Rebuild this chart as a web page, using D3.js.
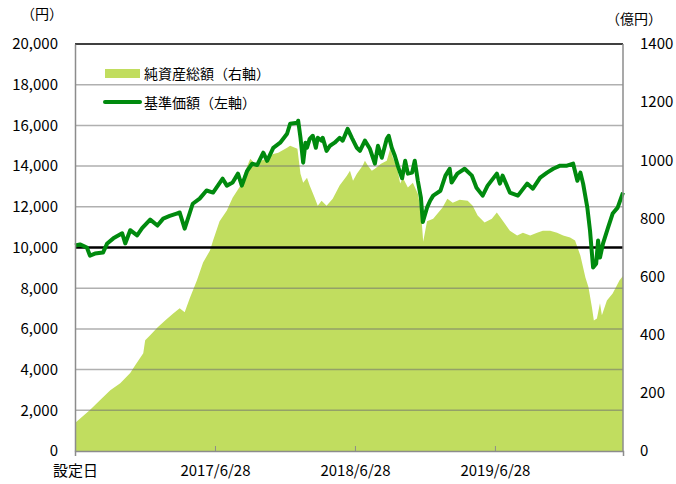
<!DOCTYPE html>
<html>
<head>
<meta charset="utf-8">
<script src="https://cdn.jsdelivr.net/npm/d3@7"></script>
<style>
  body { margin: 0; background: #fff; }
  text { font-family: "Noto Sans CJK JP", "Noto Sans", sans-serif; fill: #000; }
</style>
</head>
<body>
<div class="canvas"></div>
<script>
// 基準価額（左軸）
const navDates = ['2016-06-28','2016-07-11','2016-07-29','2016-08-06','2016-08-19','2016-09-09','2016-09-20','2016-10-06','2016-10-29','2016-11-06','2016-11-19','2016-12-07','2016-12-20','2017-01-10','2017-01-29','2017-02-13','2017-03-02','2017-03-20','2017-03-28','2017-04-10','2017-05-01','2017-05-19','2017-06-06','2017-06-23','2017-07-18','2017-07-29','2017-08-13','2017-08-27','2017-09-06','2017-09-20','2017-10-03','2017-10-16','2017-11-01','2017-11-11','2017-11-27','2017-12-15','2018-01-02','2018-01-10','2018-01-29','2018-01-31','2018-02-06','2018-02-13','2018-02-19','2018-02-23','2018-03-02','2018-03-10','2018-03-18','2018-03-23','2018-04-02','2018-04-05','2018-04-15','2018-04-24','2018-05-06','2018-05-19','2018-05-27','2018-06-09','2018-06-20','2018-07-03','2018-07-11','2018-07-24','2018-08-06','2018-08-19','2018-08-27','2018-09-06','2018-09-19','2018-09-24','2018-10-02','2018-10-10','2018-10-18','2018-10-29','2018-11-06','2018-11-13','2018-11-24','2018-12-01','2018-12-09','2018-12-17','2018-12-22','2019-01-02','2019-01-10','2019-01-18','2019-02-06','2019-02-19','2019-03-02','2019-03-07','2019-03-22','2019-04-10','2019-04-29','2019-05-11','2019-05-27','2019-06-09','2019-07-03','2019-07-11','2019-07-18','2019-08-06','2019-08-27','2019-09-20','2019-10-05','2019-10-24','2019-11-11','2019-11-27','2019-12-15','2020-01-02','2020-01-18','2020-01-29','2020-02-06','2020-02-13','2020-02-24','2020-03-02','2020-03-10','2020-03-18','2020-03-23','2020-03-28','2020-04-05','2020-04-18','2020-04-30','2020-05-13','2020-05-27'];
const navValues = [10100,10150,10000,9600,9700,9750,10200,10450,10700,10200,10850,10600,10950,11370,11080,11420,11550,11670,11720,10930,12150,12400,12800,12700,13380,13040,13190,13630,13040,13770,14120,14050,14660,14260,14900,15150,15590,16080,16130,16230,15390,14170,15150,14900,15340,15490,14900,15390,15250,15390,14750,15000,15150,15390,15250,15830,15390,14900,14750,15250,14850,14120,15000,14410,15340,15490,14900,14510,14000,13400,14260,13630,13680,14260,13280,12450,11250,11960,12300,12550,12790,13530,13870,13190,13630,13870,13530,12940,12550,13040,13630,13140,13530,12700,12550,13140,12890,13430,13680,13870,14020,14020,14120,13280,13680,13140,11960,10830,9020,9200,10340,9510,10200,10980,11670,11960,12700];

// 純資産総額（右軸, 億円）
const assetDates = ['2016-06-28','2016-08-06','2016-09-01','2016-09-28','2016-10-24','2016-11-19','2016-12-02','2016-12-23','2016-12-28','2017-01-10','2017-01-29','2017-02-18','2017-03-11','2017-03-28','2017-04-10','2017-04-24','2017-05-12','2017-05-28','2017-06-15','2017-06-23','2017-07-10','2017-07-29','2017-08-13','2017-09-01','2017-09-14','2017-09-28','2017-10-16','2017-10-29','2017-11-11','2017-11-27','2017-12-10','2018-01-02','2018-01-10','2018-01-29','2018-02-06','2018-02-13','2018-02-23','2018-03-02','2018-03-15','2018-03-23','2018-04-02','2018-04-15','2018-05-01','2018-05-19','2018-06-07','2018-06-15','2018-06-23','2018-07-03','2018-07-18','2018-07-24','2018-08-01','2018-08-11','2018-08-19','2018-09-04','2018-09-19','2018-09-28','2018-10-05','2018-10-16','2018-10-24','2018-10-31','2018-11-13','2018-11-26','2018-12-09','2018-12-17','2018-12-23','2019-01-02','2019-01-18','2019-02-11','2019-02-24','2019-03-10','2019-03-28','2019-04-18','2019-05-01','2019-05-14','2019-06-01','2019-06-20','2019-07-03','2019-07-18','2019-08-06','2019-08-25','2019-09-09','2019-09-28','2019-10-16','2019-10-31','2019-11-19','2019-12-07','2019-12-23','2020-01-10','2020-01-23','2020-02-06','2020-02-19','2020-02-27','2020-03-07','2020-03-12','2020-03-20','2020-03-28','2020-04-02','2020-04-15','2020-04-30','2020-05-18','2020-05-27'];
const assetValues = [96,141,175,209,233,268,295,336,381,398,425,449,473,491,477,528,587,648,690,724,790,827,871,910,960,1005,981,1000,1005,1022,1026,1043,1050,1040,954,923,940,913,871,844,861,844,868,913,947,964,930,954,981,998,981,964,971,988,998,1040,1009,974,920,940,906,923,885,827,720,790,799,837,868,854,864,861,844,810,786,799,820,793,758,741,751,741,751,758,758,751,741,734,724,672,597,563,494,449,456,508,467,518,542,587,602];

const leftTicks = [0,2000,4000,6000,8000,10000,12000,14000,16000,18000,20000];
const rightTicks = [0,200,400,600,800,1000,1200,1400];
const xTickDates = ['2016-06-28','2017-06-28','2018-06-28','2019-06-28'];
const xTickLabels = ['設定日','2017/6/28','2018/6/28','2019/6/28'];
const baseLine = 10000;

const parse = d3.timeParse('%Y-%m-%d');
const nav = navDates.map((d, i) => ({date: parse(d), value: navValues[i]}));
const assets = assetDates.map((d, i) => ({date: parse(d), value: assetValues[i]}));

const svg = d3.select('.canvas')
  .append('svg')
    .attr('width', 676)
    .attr('height', 484);

const margin = {top: 44, right: 53, bottom: 33, left: 75};
const graphWidth = 676 - margin.left - margin.right;
const graphHeight = 484 - margin.top - margin.bottom;

const graph = svg.append('g')
  .attr('transform', `translate(${margin.left}, ${margin.top})`);

const x = d3.scaleTime()
  .domain([parse('2016-06-28'), parse('2020-05-27')])
  .range([0, graphWidth]);
const yLeft = d3.scaleLinear().domain([0, 20000]).range([graphHeight, 0]);
const yRight = d3.scaleLinear().domain([0, 1400]).range([graphHeight, 0]);

// net assets area
const area = d3.area()
  .x(d => x(d.date))
  .y0(graphHeight)
  .y1(d => yRight(d.value));
graph.append('path')
  .datum(assets)
  .attr('d', area)
  .attr('fill', '#c1dd5f');

// gridlines over the area
graph.append('g')
  .selectAll('line')
  .data(leftTicks.filter(t => t > 0 && t < 20000 && t !== baseLine))
  .enter()
  .append('line')
    .attr('x1', 0)
    .attr('x2', graphWidth)
    .attr('y1', d => yLeft(d))
    .attr('y2', d => yLeft(d))
    .attr('stroke', '#6f6f6f')
    .attr('stroke-opacity', 0.55)
    .attr('stroke-width', 1.5);

// 10,000 base line
graph.append('line')
  .attr('x1', 0)
  .attr('x2', graphWidth)
  .attr('y1', yLeft(baseLine))
  .attr('y2', yLeft(baseLine))
  .attr('stroke', '#000')
  .attr('stroke-width', 2.5);

// NAV line
const line = d3.line()
  .x(d => x(d.date))
  .y(d => yLeft(d.value));
graph.append('path')
  .datum(nav)
  .attr('d', line)
  .attr('fill', 'none')
  .attr('stroke', '#008a0e')
  .attr('stroke-width', 4)
  .attr('stroke-linejoin', 'round');

// frame
graph.append('line')
  .attr('x1', 0).attr('x2', graphWidth)
  .attr('y1', 0).attr('y2', 0)
  .attr('stroke', '#000').attr('stroke-width', 1.5);
graph.append('line')
  .attr('x1', graphWidth).attr('x2', graphWidth)
  .attr('y1', 0).attr('y2', graphHeight)
  .attr('stroke', '#8c8c8c').attr('stroke-width', 1.5);

// axes
const yAxisLeft = d3.axisLeft(yLeft)
  .tickValues(leftTicks)
  .tickSize(0)
  .tickPadding(17)
  .tickFormat(d3.format(','));
const yAxisRight = d3.axisRight(yRight)
  .tickValues(rightTicks)
  .tickSize(0)
  .tickPadding(17)
  .tickFormat(d => d);
const xAxis = d3.axisBottom(x)
  .tickValues(xTickDates.map(parse))
  .tickSize(5)
  .tickPadding(9)
  .tickFormat((d, i) => xTickLabels[i]);

const leftGroup = graph.append('g').call(yAxisLeft);
const rightGroup = graph.append('g')
  .attr('transform', `translate(${graphWidth}, 0)`)
  .call(yAxisRight);
const xGroup = graph.append('g')
  .attr('transform', `translate(0, ${graphHeight})`)
  .call(xAxis);

[leftGroup, rightGroup, xGroup].forEach(g => {
  g.select('.domain').attr('stroke', '#8c8c8c').attr('stroke-width', 1.5);
  g.selectAll('text').style('font-size', '15px').attr('fill', '#000');
});
rightGroup.select('.domain').remove();
xGroup.selectAll('.tick line')
  .attr('stroke', '#8c8c8c')
  .attr('transform', 'translate(0,-5)');
xGroup.selectAll('.tick').filter((d, i) => i === 0).select('line').remove();

// unit labels
svg.append('text')
  .attr('x', 42).attr('y', 19)
  .attr('text-anchor', 'middle')
  .style('font-size', '14px')
  .text('（円）');
svg.append('text')
  .attr('x', 634).attr('y', 24)
  .attr('text-anchor', 'middle')
  .style('font-size', '14px')
  .text('（億円）');

// legend
const legend = svg.append('g');
legend.append('rect')
  .attr('x', 105).attr('y', 69)
  .attr('width', 35).attr('height', 9)
  .attr('fill', '#c1dd5f');
legend.append('text')
  .attr('x', 144).attr('y', 79)
  .style('font-size', '14px')
  .text('純資産総額（右軸）');
legend.append('line')
  .attr('x1', 105).attr('x2', 140)
  .attr('y1', 102).attr('y2', 102)
  .attr('stroke', '#008a0e')
  .attr('stroke-width', 4)
  .attr('stroke-linecap', 'round');
legend.append('text')
  .attr('x', 144).attr('y', 108)
  .style('font-size', '14px')
  .text('基準価額（左軸）');
</script>
</body>
</html>
